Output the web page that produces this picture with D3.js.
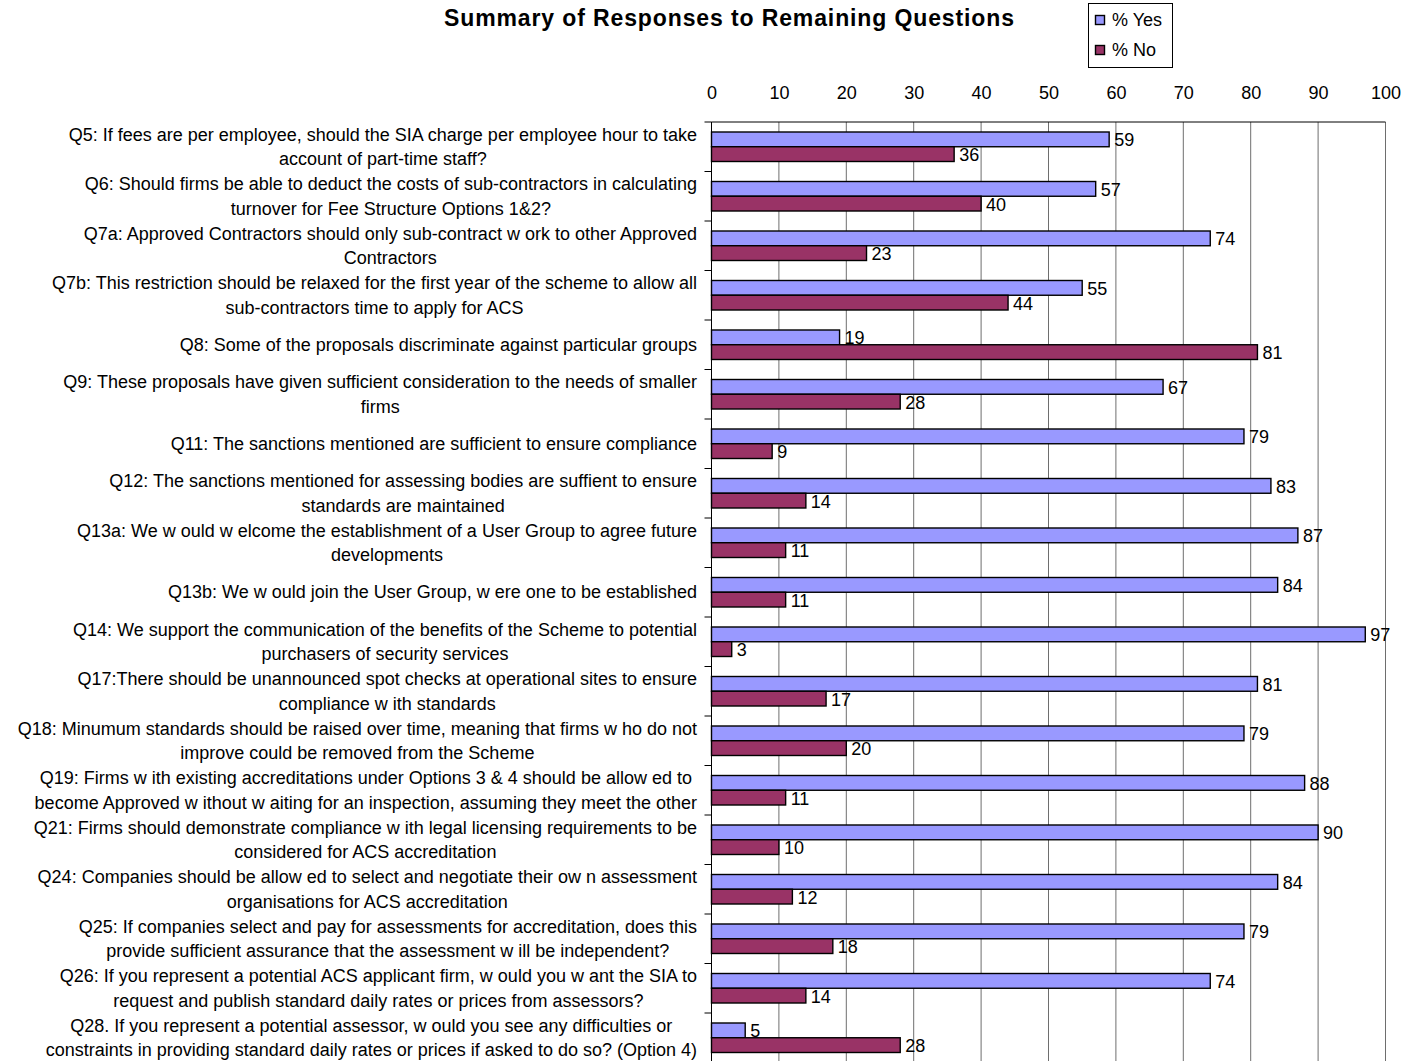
<!DOCTYPE html>
<html>
<head>
<meta charset="utf-8">
<script src="https://cdn.jsdelivr.net/npm/d3@7"></script>
<style>
  html, body { margin: 0; padding: 0; background: #fff; }
  svg { display: block; font-family: "Liberation Sans", Arial, sans-serif; }
</style>
</head>
<body>
<svg id="chart" width="1407" height="1061"></svg>
<script>
const title = "Summary of Responses to Remaining Questions";
const seriesNames = ["% Yes", "% No"];
const categories = ["Q5","Q6","Q7a","Q7b","Q8","Q9","Q11","Q12","Q13a","Q13b","Q14","Q17","Q18","Q19","Q21","Q24","Q25","Q26","Q28"];
const categoryLabels = [
  ["Q5: If fees are per employee, should the SIA charge per employee hour to take", "account of part-time staff?"],
  ["Q6: Should firms be able to deduct the costs of sub-contractors in calculating", "turnover for Fee Structure Options 1&2?"],
  ["Q7a: Approved Contractors should only sub-contract w ork to other Approved", "Contractors"],
  ["Q7b: This restriction should be relaxed for the first year of the scheme to allow  all", "sub-contractors time to apply for ACS"],
  ["Q8: Some of the proposals discriminate against particular groups"],
  ["Q9: These proposals have given sufficient consideration to the needs of smaller", "firms"],
  ["Q11: The sanctions mentioned are sufficient to ensure compliance"],
  ["Q12: The sanctions mentioned for assessing bodies are suffient to ensure", "standards are maintained"],
  ["Q13a: We w ould w elcome the establishment of a User Group to agree future", "developments"],
  ["Q13b: We w ould join the User Group, w ere one to be established"],
  ["Q14: We support the communication of the benefits of the Scheme to potential", "purchasers of security services"],
  ["Q17:There should be unannounced spot checks at operational sites to ensure", "compliance w ith standards"],
  ["Q18: Minumum standards should be raised over time, meaning that firms w ho do not", "improve could be removed from the Scheme"],
  ["Q19: Firms w ith existing accreditations under Options 3 & 4 should be allow ed to", "become Approved w ithout w aiting for an inspection, assuming they meet the other"],
  ["Q21: Firms should demonstrate compliance w ith legal licensing requirements to be", "considered for ACS accreditation"],
  ["Q24: Companies should be allow ed to select and negotiate their ow n assessment", "organisations for ACS accreditation"],
  ["Q25: If companies select and pay for assessments for accreditation, does this", "provide sufficient assurance that the assessment w ill be independent?"],
  ["Q26: If you represent a potential ACS applicant firm, w ould you w ant the SIA to", "request and publish standard daily rates or prices from assessors?"],
  ["Q28. If you represent a potential assessor, w ould you see any difficulties or", "constraints in providing standard daily rates or prices if asked to do so? (Option 4)"]
];
const yesValues = [59,57,74,55,19,67,79,83,87,84,97,81,79,88,90,84,79,74,5];
const noValues  = [36,40,23,44,81,28,9,14,11,11,3,17,20,11,10,12,18,14,28];
const xTicks = [0,10,20,30,40,50,60,70,80,90,100];

const colors = {"% Yes": "#9999ff", "% No": "#993366"};
const fs = 18;

const svg = d3.select("#chart");
const plotLeft = 711.5, plotRight = 1385.5, plotTop = 122, rowH = 49.5;

const x = d3.scaleLinear().domain([0, 100]).range([plotLeft, plotRight]);
const y = d3.scaleBand().domain(categories).range([plotTop, plotTop + rowH * categories.length]).padding(0);
const ySub = d3.scaleBand().domain(seriesNames).range([10, 39.5]).padding(0);

// gridlines
svg.append("g").selectAll("line").data(xTicks.filter(t => t > 0)).join("line")
  .attr("x1", d => x(d)).attr("x2", d => x(d))
  .attr("y1", plotTop).attr("y2", 1070)
  .attr("stroke", "#6e6e6e").attr("stroke-width", 1);

// top axis labels
const xAxis = d3.axisTop(x).tickValues(xTicks).tickSize(0).tickPadding(23).tickFormat(d3.format("d"));
const gx = svg.append("g").attr("transform", `translate(0,${plotTop})`).call(xAxis);
gx.select(".domain").remove();
gx.selectAll("text").attr("font-size", fs).attr("font-family", "Liberation Sans, Arial, sans-serif").attr("fill", "#000");

// top axis line
svg.append("line").attr("x1", plotLeft).attr("x2", plotRight).attr("y1", plotTop).attr("y2", plotTop)
  .attr("stroke", "#000").attr("stroke-width", 1);

// rows data
const rows = categories.map((c, i) => ({cat: c, lines: categoryLabels[i], vals: [
  {s: "% Yes", v: yesValues[i]}, {s: "% No", v: noValues[i]}]}));

const gRows = svg.append("g").selectAll("g").data(rows).join("g")
  .attr("transform", d => `translate(0,${y(d.cat)})`);

gRows.selectAll("rect").data(d => d.vals).join("rect")
  .attr("x", x(0))
  .attr("y", d => ySub(d.s))
  .attr("width", d => x(d.v) - x(0))
  .attr("height", ySub.bandwidth())
  .attr("fill", d => colors[d.s])
  .attr("stroke", "#000").attr("stroke-width", 1.4);

gRows.selectAll("text.val").data(d => d.vals).join("text")
  .attr("class", "val")
  .attr("x", d => x(d.v) + 5)
  .attr("y", d => ySub(d.s) + ySub.bandwidth() / 2 + 1)
  .attr("dominant-baseline", "central")
  .attr("font-size", fs)
  .text(d => d.v);

// y axis line and category ticks
svg.append("line").attr("x1", plotLeft).attr("x2", plotLeft).attr("y1", plotTop).attr("y2", 1070)
  .attr("stroke", "#000").attr("stroke-width", 1);
svg.append("g").selectAll("line").data(categories).join("line")
  .attr("x1", plotLeft - 7).attr("x2", plotLeft)
  .attr("y1", d => y(d)).attr("y2", d => y(d))
  .attr("stroke", "#000").attr("stroke-width", 1);

// category labels
const labelRight = 697, lineH = 24.5;
gRows.each(function(d) {
  const g = d3.select(this);
  const n = d.lines.length;
  const tg = g.append("g");
  const texts = tg.selectAll("text").data(d.lines).join("text")
    .attr("y", (l, i) => rowH / 2 + (i - (n - 1) / 2) * lineH)
    .attr("dominant-baseline", "central")
    .attr("text-anchor", "middle")
    .attr("font-size", fs)
    .text(l => l);
  let maxW = 0;
  texts.each(function() { maxW = Math.max(maxW, this.getComputedTextLength()); });
  texts.attr("x", labelRight - maxW / 2);
});

// title
const t = svg.append("text")
  .attr("x", 729).attr("y", 18)
  .attr("text-anchor", "middle").attr("dominant-baseline", "central")
  .attr("font-size", 23).attr("font-weight", "bold")
  .text(title);
const tw = t.node().getComputedTextLength();
if (Math.abs(tw - 570) > 4) t.attr("textLength", 570).attr("lengthAdjust", "spacing");

// legend
const lg = svg.append("g");
lg.append("rect").attr("x", 1088.5).attr("y", 3.5).attr("width", 84).attr("height", 64)
  .attr("fill", "#fff").attr("stroke", "#000").attr("stroke-width", 1);
const li = lg.selectAll("g.item").data(seriesNames).join("g").attr("class", "item")
  .attr("transform", (d, i) => `translate(0,${20 + i * 30})`);
li.append("rect").attr("x", 1095.5).attr("y", -4.5).attr("width", 9).attr("height", 9)
  .attr("fill", d => colors[d]).attr("stroke", "#000").attr("stroke-width", 1.4);
li.append("text").attr("x", 1112).attr("y", 0).attr("dominant-baseline", "central")
  .attr("font-size", fs).text(d => d);
</script>
</body>
</html>
